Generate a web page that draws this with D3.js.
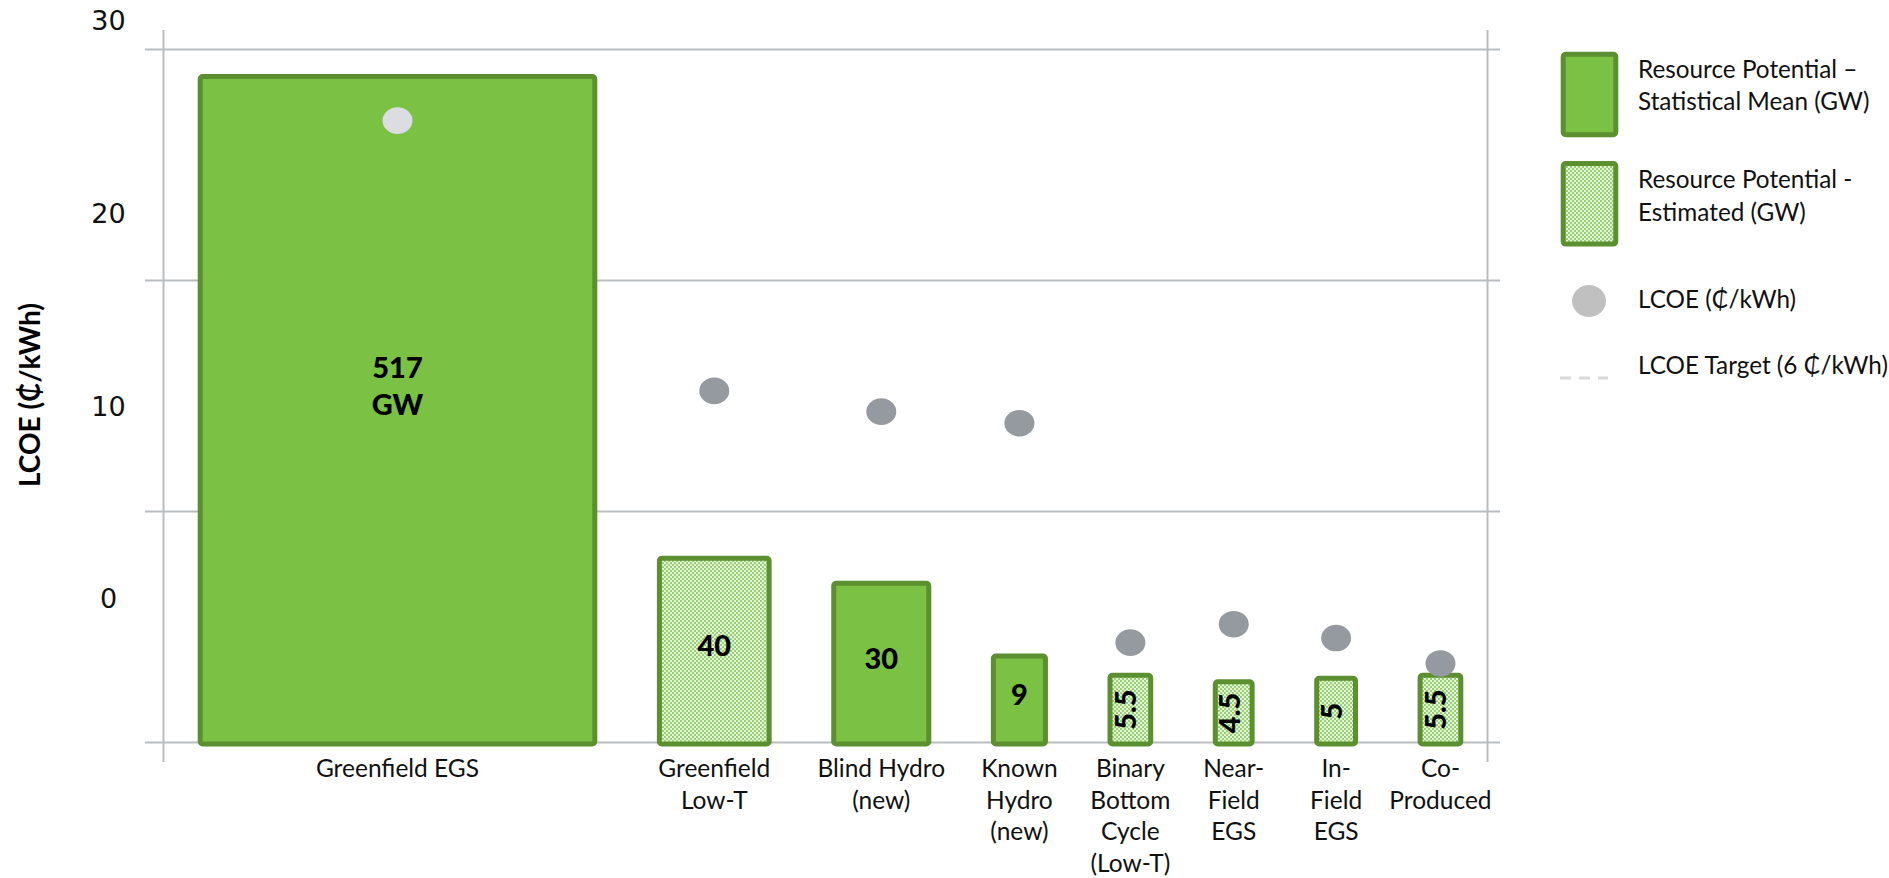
<!DOCTYPE html>
<html><head><meta charset="utf-8">
<script src="https://cdn.jsdelivr.net/npm/d3@7"></script>
<style>body{margin:0;background:#fff}svg{display:block}</style>
</head><body>
<svg id="chart" width="1889" height="878"></svg>
<script>
// ---------- data ----------
const categories = [
  ["Greenfield EGS"],
  ["Greenfield", "Low-T"],
  ["Blind Hydro", "(new)"],
  ["Known", "Hydro", "(new)"],
  ["Binary", "Bottom", "Cycle", "(Low-T)"],
  ["Near-", "Field", "EGS"],
  ["In-", "Field", "EGS"],
  ["Co-", "Produced"]
];
const potentialGW = [517, 40, 30, 9, 5.5, 4.5, 5, 5.5];
const potentialLabels = ["517\nGW", "40", "30", "9", "5.5", "4.5", "5", "5.5"];
const potentialType = ["mean", "estimated", "mean", "mean", "estimated", "estimated", "estimated", "estimated"];
const lcoe = [26.9, 15.2, 14.3, 13.8, 4.3, 5.1, 4.5, 3.4];
const lcoeTicks = [0, 10, 20, 30];
const legendItems = [
  ["Resource Potential \u2013", "Statistical Mean (GW)"],
  ["Resource Potential -", "Estimated (GW)"],
  ["LCOE (\u20B5/kWh)"],
  ["LCOE Target (6 \u20B5/kWh)"]
];
const yTitle = "LCOE (\u20B5/kWh)";

// ---------- styles ----------
const GREEN = "#7bc144", GREEN_DARK = "#5b8f2f", GRID = "#b9bdc2";
const FONT = "Lato, 'Open Sans', sans-serif";

const svg = d3.select("#chart");
const defs = svg.append("defs");
const pat = defs.append("pattern").attr("id", "est").attr("patternUnits", "userSpaceOnUse")
  .attr("width", 4).attr("height", 4);
pat.append("rect").attr("width", 4).attr("height", 4).attr("fill", "#e6f4dc");
pat.append("rect").attr("width", 2).attr("height", 2).attr("fill", "#96d070");
pat.append("rect").attr("x", 2).attr("y", 2).attr("width", 2).attr("height", 2).attr("fill", "#96d070");

// ---------- scales ----------
const axisLeftX = 163.5, axisRightX = 1487.5;
const yGrid = d3.scaleLinear().domain([0, 30]).range([742, 49]);
const yTickText = d3.scaleLinear().domain([0, 30]).range([598, 20]);
const wScale = d3.scaleSqrt().domain([0, 517]).range([0, 394.6]);
const hScale = d3.scaleSqrt().domain([0, 517]).range([0, 667.4]);
const barBase = 744;

// sequential (marimekko-like) layout with equal gaps
const widths = potentialGW.map(wScale);
const startX = 200.2, endX = 1460.8;
const gap = (endX - startX - d3.sum(widths)) / (widths.length - 1);
const xLeft = [];
widths.reduce((acc, w, i) => { xLeft[i] = acc; return acc + w + gap; }, startX);
const bars = potentialGW.map((v, i) => ({
  i, v, x: xLeft[i], w: widths[i], h: hScale(v),
  cx: xLeft[i] + widths[i] / 2, type: potentialType[i]
}));

// ---------- gridlines & frame ----------
svg.append("g").selectAll("line").data(lcoeTicks).join("line")
  .attr("x1", 145).attr("x2", 1500)
  .attr("y1", d => Math.round(yGrid(d)) + 0.5).attr("y2", d => Math.round(yGrid(d)) + 0.5)
  .attr("stroke", GRID).attr("stroke-width", 2);
[axisLeftX, axisRightX].forEach(x => {
  svg.append("line").attr("x1", x).attr("x2", x).attr("y1", 30).attr("y2", 762)
    .attr("stroke", GRID).attr("stroke-width", 2);
});

// tick labels (axis, no lines)
const ax = svg.append("g").attr("transform", "translate(108.5,0)")
  .call(d3.axisLeft(yTickText).tickValues(lcoeTicks).tickSize(0).tickPadding(0));
ax.select(".domain").remove();
ax.selectAll("text").attr("text-anchor", "middle").attr("dy", "0.36em")
  .attr("font-family", "'DejaVu Sans', sans-serif").attr("font-size", 27).attr("fill", "#111");

// y title
svg.append("text").attr("transform", "translate(30,395) rotate(-90)")
  .attr("text-anchor", "middle").attr("dy", "0.35em")
  .attr("font-family", FONT).attr("font-weight", 700).attr("font-size", 28)
  .attr("fill", "#000").text(yTitle);

// ---------- bars ----------
svg.append("g").selectAll("rect").data(bars).join("rect")
  .attr("x", d => d.x).attr("y", d => barBase - d.h)
  .attr("width", d => d.w).attr("height", d => d.h)
  .attr("rx", 2.5)
  .attr("fill", d => d.type === "mean" ? GREEN : "url(#est)")
  .attr("stroke", GREEN_DARK).attr("stroke-width", 5);

// ---------- value labels ----------
const vl = svg.append("g").attr("font-family", FONT).attr("font-weight", 900)
  .attr("font-size", 29).attr("fill", "#000").attr("text-anchor", "middle");
bars.forEach(d => {
  const cy = barBase - d.h / 2;
  const lines = potentialLabels[d.i].split("\n");
  if (d.w < 45) {
    vl.append("text").attr("transform", `translate(${d.cx + 6},${cy}) rotate(-90)`)
      .text(lines[0]);
  } else {
    const t = vl.append("text");
    lines.forEach((ln, k) => {
      t.append("tspan").attr("x", d.cx)
        .attr("y", cy + 5 - (lines.length - 1 - k) * 37).text(ln);
    });
  }
});

// ---------- LCOE dots ----------
svg.append("g").selectAll("ellipse").data(bars).join("ellipse")
  .attr("cx", d => d.cx).attr("cy", d => yGrid(lcoe[d.i]))
  .attr("rx", 15).attr("ry", 13.3)
  .attr("fill", d => yGrid(lcoe[d.i]) > barBase - d.h ? "#dcdde1" : "#959aa1");

// ---------- category labels ----------
const cl = svg.append("g").attr("font-family", FONT).attr("font-size", 24.5)
  .attr("fill", "#111").attr("text-anchor", "middle");
bars.forEach(d => {
  const t = cl.append("text");
  categories[d.i].forEach((ln, k) => {
    t.append("tspan").attr("x", d.cx).attr("y", 777 + k * 31.5).text(ln);
  });
});

// ---------- legend ----------
const lg = svg.append("g");
[54.2, 163.5].forEach((y, k) => {
  lg.append("rect").attr("x", 1563.2).attr("y", y).attr("width", 52.6).attr("height", 80.6)
    .attr("rx", 2.5).attr("fill", k === 0 ? GREEN : "url(#est)")
    .attr("stroke", GREEN_DARK).attr("stroke-width", 5);
});
lg.append("ellipse").attr("cx", 1589).attr("cy", 301).attr("rx", 17).attr("ry", 16).attr("fill", "#c0c0c0");
lg.append("line").attr("x1", 1560).attr("x2", 1608).attr("y1", 378).attr("y2", 378)
  .attr("stroke", "#d9d9d9").attr("stroke-width", 3).attr("stroke-dasharray", "11,8");
const legBase = [[78, 110], [188, 221], [308], [374]];
legendItems.forEach((lines, k) => {
  const t = lg.append("text").attr("font-family", FONT).attr("font-size", 24.3).attr("fill", "#111");
  lines.forEach((ln, j) => t.append("tspan").attr("x", 1638).attr("y", legBase[k][j]).text(ln));
});
</script>
</body></html>
